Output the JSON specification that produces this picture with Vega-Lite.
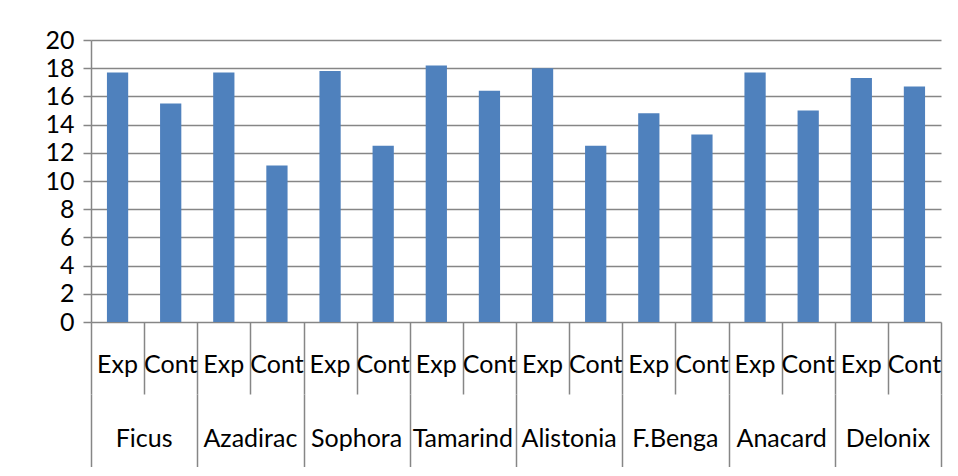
{
  "$schema": "https://vega.github.io/schema/vega-lite/v6.json",
  "padding": {"left": 44, "top": 28, "right": 18, "bottom": 0},
  "background": "white",
  "bounds": "flush",
  "data": {"values": [
    {"group": "Ficus", "cond": "Exp", "key": "Ficus Exp", "value": 17.7},
    {"group": "Ficus", "cond": "Cont", "key": "Ficus Cont", "value": 15.5},
    {"group": "Azadirac", "cond": "Exp", "key": "Azadirac Exp", "value": 17.7},
    {"group": "Azadirac", "cond": "Cont", "key": "Azadirac Cont", "value": 11.1},
    {"group": "Sophora", "cond": "Exp", "key": "Sophora Exp", "value": 17.8},
    {"group": "Sophora", "cond": "Cont", "key": "Sophora Cont", "value": 12.5},
    {"group": "Tamarind", "cond": "Exp", "key": "Tamarind Exp", "value": 18.2},
    {"group": "Tamarind", "cond": "Cont", "key": "Tamarind Cont", "value": 16.4},
    {"group": "Alistonia", "cond": "Exp", "key": "Alistonia Exp", "value": 18.0},
    {"group": "Alistonia", "cond": "Cont", "key": "Alistonia Cont", "value": 12.5},
    {"group": "F.Benga", "cond": "Exp", "key": "F.Benga Exp", "value": 14.8},
    {"group": "F.Benga", "cond": "Cont", "key": "F.Benga Cont", "value": 13.3},
    {"group": "Anacard", "cond": "Exp", "key": "Anacard Exp", "value": 17.7},
    {"group": "Anacard", "cond": "Cont", "key": "Anacard Cont", "value": 15.0},
    {"group": "Delonix", "cond": "Exp", "key": "Delonix Exp", "value": 17.3},
    {"group": "Delonix", "cond": "Cont", "key": "Delonix Cont", "value": 16.7}
  ]},
  "spacing": 0,
  "resolve": {"scale": {"x": "independent"}},
  "vconcat": [
    {
      "width": 850,
      "height": 282,
      "mark": {"type": "bar", "color": "#4F81BD", "width": {"band": 0.4}},
      "encoding": {
        "x": {"field": "key", "type": "nominal", "sort": null,
              "scale": {"paddingInner": 0, "paddingOuter": 0},
              "axis": null},
        "y": {"field": "value", "type": "quantitative",
              "scale": {"domain": [0, 20], "nice": false},
              "axis": {"title": null, "values": [0, 2, 4, 6, 8, 10, 12, 14, 16, 18, 20],
                       "grid": true, "gridColor": "#868686", "gridWidth": 1.5,
                       "domain": true, "domainColor": "#868686", "domainWidth": 1.5,
                       "ticks": true, "tickSize": 8, "tickColor": "#868686", "tickWidth": 1.5,
                       "labelPadding": 9, "labelFont": "Lato", "labelFontSize": 25,
                       "labelColor": "#000000"}}
      }
    },
    {
      "width": 850,
      "height": 72,
      "mark": {"type": "text", "font": "Lato", "fontSize": 25, "color": "#000000", "dy": 7},
      "encoding": {
        "x": {"field": "key", "type": "nominal", "sort": null,
              "scale": {"paddingInner": 0, "paddingOuter": 0},
              "axis": {"title": null, "labels": false, "ticks": false, "domain": false,
                       "minExtent": 0, "maxExtent": 0, "offset": 0,
                       "grid": true, "tickBand": "extent", "gridColor": "#868686", "gridWidth": 1.5}},
        "text": {"field": "cond"}
      }
    },
    {
      "width": 850,
      "height": 73,
      "transform": [{"filter": "datum.cond == 'Exp'"}],
      "mark": {"type": "text", "font": "Lato", "fontSize": 25, "color": "#000000", "dy": 8},
      "encoding": {
        "x": {"field": "group", "type": "nominal", "sort": null,
              "scale": {"paddingInner": 0, "paddingOuter": 0},
              "axis": {"title": null, "labels": false, "ticks": false, "domain": false,
                       "minExtent": 0, "maxExtent": 0, "offset": 0,
                       "grid": true, "tickBand": "extent", "gridColor": "#868686", "gridWidth": 1.5}},
        "text": {"field": "group"}
      }
    }
  ],
  "config": {"view": {"stroke": null}}
}
